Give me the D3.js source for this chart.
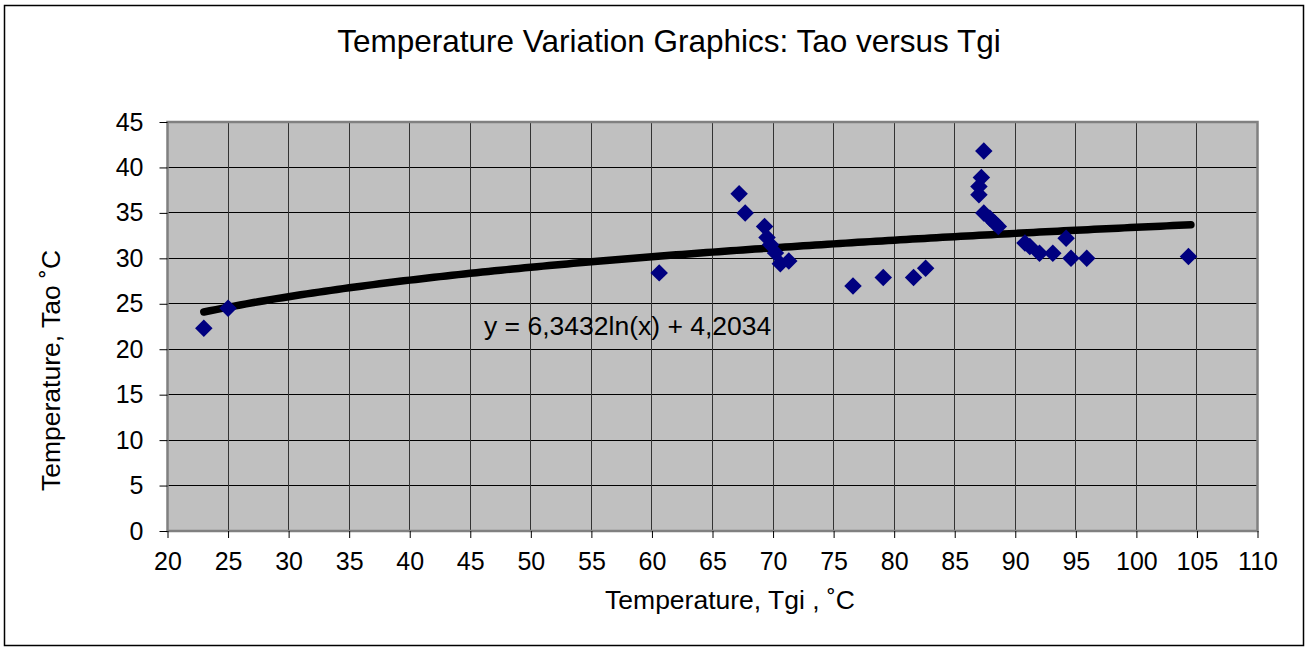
<!DOCTYPE html>
<html><head><meta charset="utf-8">
<script src="https://cdn.jsdelivr.net/npm/d3@7"></script>
<style>body{margin:0;background:#fff;} svg{display:block;font-family:Arial,"Liberation Sans",sans-serif;}</style>
</head><body>
<script>
const titleText = "Temperature Variation Graphics: Tao versus Tgi";
const xLabel = "Temperature, Tgi , \u02DAC";
const yLabel = "Temperature, Tao \u02DAC";
const equationText = "y = 6,3432ln(x) + 4,2034";
const xTicks = [20,25,30,35,40,45,50,55,60,65,70,75,80,85,90,95,100,105,110];
const yTicks = [0,5,10,15,20,25,30,35,40,45];
const tgi = [23.0,25.0,60.6,67.2,67.7,69.3,69.5,69.8,70.2,70.6,71.3,76.6,79.1,81.6,82.6,87.4,87.2,87.0,87.0,87.4,87.9,88.3,88.6,90.8,91.2,92.0,93.1,94.2,94.6,95.9,104.3];
const tao = [22.3,24.5,28.4,37.1,35.0,33.5,32.3,31.5,30.6,29.4,29.7,26.95,27.9,27.9,28.9,41.8,38.9,37.9,37.0,35.0,34.4,33.9,33.5,31.7,31.3,30.55,30.55,32.2,30.0,30.0,30.2];
const trendA = 6.3432, trendB = 4.2034;
const trendRange = [23.0, 104.5];

const W = 1306, H = 648;
const svg = d3.select("body").append("svg").attr("width", W).attr("height", H);
svg.append("rect").attr("x",4.5).attr("y",5.5).attr("width",1299).attr("height",640)
  .attr("fill","#fff").attr("stroke","#000").attr("stroke-width",1.5);

const L = 167.5, R = 1257.5, T = 122, B = 531;
const x = d3.scaleLinear().domain([20,110]).range([L,R]);
const y = d3.scaleLinear().domain([0,45]).range([B,T]);

svg.append("rect").attr("x",L).attr("y",T).attr("width",R-L).attr("height",B-T).attr("fill","#C0C0C0");

// gridlines
svg.append("g").selectAll("line").data(yTicks).join("line")
  .attr("x1",L).attr("x2",R).attr("y1",d=>y(d)).attr("y2",d=>y(d))
  .attr("stroke","#000").attr("stroke-width",1).attr("shape-rendering","crispEdges");
svg.append("g").selectAll("line").data(xTicks).join("line")
  .attr("y1",T).attr("y2",B).attr("x1",d=>x(d)).attr("x2",d=>x(d))
  .attr("stroke","#333").attr("stroke-width",1).attr("shape-rendering","crispEdges");

svg.append("rect").attr("x",L).attr("y",T).attr("width",R-L).attr("height",B-T)
  .attr("fill","none").attr("stroke","#808080").attr("stroke-width",2.5);

// axes
const xAxis = svg.append("g").attr("transform",`translate(0,${B})`)
  .call(d3.axisBottom(x).tickValues(xTicks).tickSize(7).tickPadding(14).tickFormat(d3.format("d")));
const yAxis = svg.append("g").attr("transform",`translate(${L},0)`)
  .call(d3.axisLeft(y).tickValues(yTicks).tickSize(8).tickPadding(16).tickFormat(d3.format("d")));
[xAxis,yAxis].forEach(g=>{
  g.select(".domain").remove();
  g.selectAll("line").attr("stroke","#000");
  g.selectAll("text").attr("font-size",25).attr("fill","#000").attr("font-family","Arial, 'Liberation Sans', sans-serif");
});

// trendline
const trend = d3.range(trendRange[0], trendRange[1]+0.01, 0.5).map(v=>[v, trendA*Math.log(v)+trendB]);
svg.append("path").datum(trend)
  .attr("d", d3.line().x(d=>x(d[0])).y(d=>y(d[1])))
  .attr("fill","none").attr("stroke","#000").attr("stroke-width",7.5).attr("stroke-linecap","round");

// points
const pts = tgi.map((v,i)=>[v,tao[i]]);
svg.append("g").selectAll("path").data(pts).join("path")
  .attr("d", d3.symbol().type(d3.symbolDiamond2).size(195))
  .attr("transform", d=>`translate(${x(d[0])},${y(d[1])})`)
  .attr("fill","#000080");

// texts
svg.append("text").attr("x",669).attr("y",52).attr("text-anchor","middle")
  .attr("font-size",31.5).text(titleText);
svg.append("text").attr("x",730).attr("y",609).attr("text-anchor","middle")
  .attr("font-size",26.5).text(xLabel);
svg.append("text").attr("transform","translate(60,491) rotate(-90)").attr("text-anchor","start")
  .attr("font-size",26.5).text(yLabel);
svg.append("text").attr("x",484).attr("y",335).attr("font-size",26.5).text(equationText);
</script>
</body></html>
